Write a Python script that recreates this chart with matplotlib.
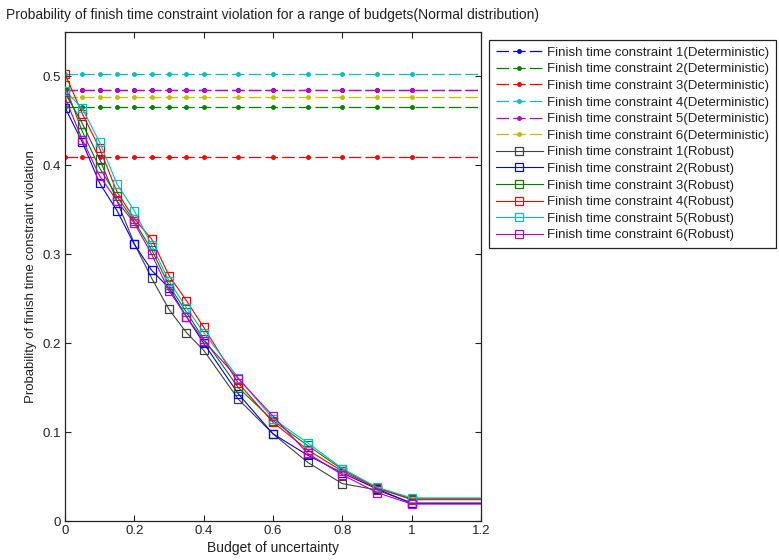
import matplotlib
matplotlib.use("Agg")
import matplotlib.pyplot as plt

plt.rcParams['font.family'] = ['Liberation Sans', 'DejaVu Sans']
plt.rcParams['lines.scale_dashes'] = False

budgets = [0, 0.05, 0.1, 0.15, 0.2, 0.25, 0.3, 0.35, 0.4, 0.5, 0.6, 0.7, 0.8, 0.9, 1.0, 1.5]

det_values = {
    1: 0.485,
    2: 0.466,
    3: 0.409,
    4: 0.503,
    5: 0.485,
    6: 0.477,
}

robust1 = [0.482, 0.447, 0.407, 0.360, 0.312, 0.273, 0.238, 0.212, 0.192, 0.137, 0.098, 0.066, 0.042, 0.035, 0.020, 0.020]
robust2 = [0.465, 0.426, 0.380, 0.349, 0.311, 0.282, 0.262, 0.230, 0.200, 0.143, 0.098, 0.074, 0.054, 0.036, 0.020, 0.020]
robust3 = [0.490, 0.438, 0.397, 0.365, 0.337, 0.305, 0.265, 0.235, 0.205, 0.150, 0.113, 0.085, 0.058, 0.037, 0.025, 0.025]
robust4 = [0.503, 0.458, 0.419, 0.370, 0.340, 0.317, 0.276, 0.248, 0.218, 0.155, 0.111, 0.080, 0.056, 0.037, 0.024, 0.024]
robust5 = [0.484, 0.464, 0.426, 0.379, 0.349, 0.310, 0.270, 0.240, 0.212, 0.161, 0.115, 0.088, 0.059, 0.038, 0.026, 0.026]
robust6 = [0.476, 0.429, 0.388, 0.360, 0.335, 0.300, 0.259, 0.230, 0.203, 0.160, 0.118, 0.076, 0.052, 0.032, 0.019, 0.019]
robust = [robust1, robust2, robust3, robust4, robust5, robust6]

det_colors = ['#0000ff', '#008000', '#ff0000', '#00bfbf', '#bf00bf', '#bfbf00']
rob_colors = ['#404040', '#0000ff', '#008000', '#ff0000', '#00bfbf', '#bf00bf']

fig = plt.figure(figsize=(7.79, 5.6), dpi=100)
ax = fig.add_axes([65/779, 39/560, 416/779, 489/560])

for i in range(6):
    k = i + 1
    ax.plot(budgets, [det_values[k]] * len(budgets), color=det_colors[i],
            linestyle='--', dashes=(9, 3), marker='.', markersize=5, linewidth=0.9,
            label=f'Finish time constraint {k}(Deterministic)', zorder=2 if k != 1 else 1.9)
for i in range(6):
    k = i + 1
    ax.plot(budgets, robust[i], color=rob_colors[i], linestyle='-', marker='s',
            markersize=6, markerfacecolor='none', markeredgewidth=0.9, linewidth=0.8,
            label=f'Finish time constraint {k}(Robust)', zorder=3)

ax.set_xlim(0, 1.2)
ax.set_ylim(0, 0.55)
ax.set_xticks([0, 0.2, 0.4, 0.6, 0.8, 1.0, 1.2])
ax.set_xticklabels(['0', '0.2', '0.4', '0.6', '0.8', '1', '1.2'])
ax.set_yticks([0, 0.1, 0.2, 0.3, 0.4, 0.5])
ax.set_yticklabels(['0', '0.1', '0.2', '0.3', '0.4', '0.5'])
ax.tick_params(direction='in', top=True, right=True, length=4, labelsize=9.5, colors='#222222', pad=3)
for s in ax.spines.values():
    s.set_color('#222222')
    s.set_linewidth(0.9)

ax.set_xlabel('Budget of uncertainty', fontsize=10, labelpad=3, color='#222222')
ax.set_ylabel('Probability of finish time constraint violation', fontsize=9.5, labelpad=4, color='#222222')
ax.set_title('Probability of finish time constraint violation for a range of budgets(Normal distribution)',
             fontsize=10, pad=9, color='#222222')

leg = ax.legend(loc='upper left', bbox_to_anchor=(489/779, 1 - 40/560), bbox_transform=fig.transFigure,
                fontsize=9.5, frameon=True, fancybox=False, handlelength=3.6, handletextpad=0.3,
                labelspacing=0.33, borderpad=0.5, borderaxespad=0, framealpha=1)
leg.get_frame().set_edgecolor('#222222')
leg.get_frame().set_linewidth(0.9)
for t in leg.get_texts():
    t.set_color('#222222')

fig.savefig('out.png', dpi=100)
